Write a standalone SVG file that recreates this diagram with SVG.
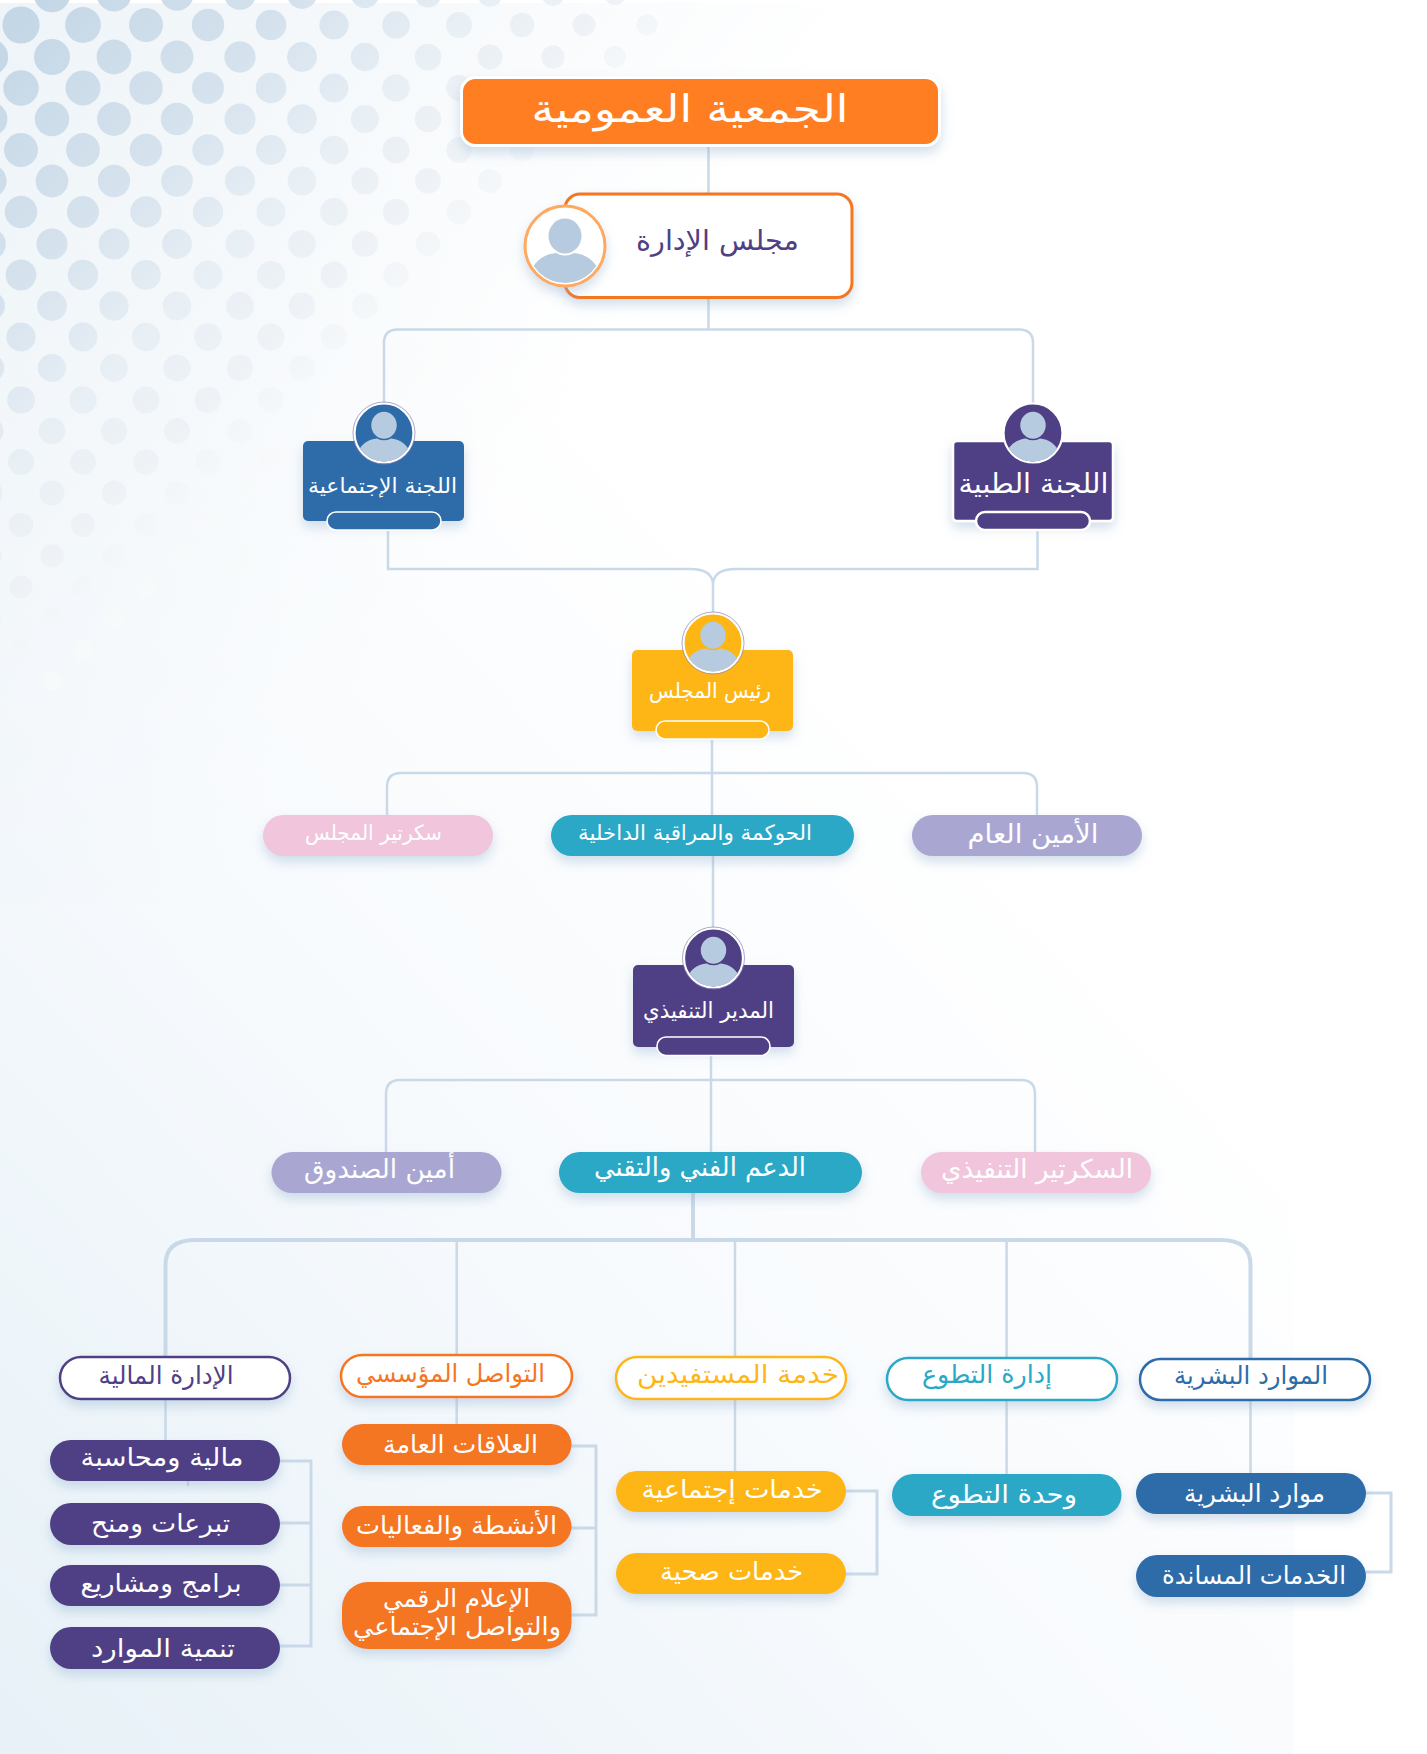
<svg xmlns="http://www.w3.org/2000/svg" width="1427" height="1754" viewBox="0 0 1427 1754">
<style>
text{font-family:"DejaVu Sans","Noto Sans",sans-serif;text-anchor:middle;direction:rtl}
.w{fill:#fff}.pu{fill:#4f4085}.or{fill:#f5761f}.ye{fill:#fdb614}.te{fill:#2aa8c6}.bl{fill:#2e6ca9}.pk{fill:#f1c6dc}.la{fill:#a9a7d2}
.sh{filter:url(#shadow)}
.cn{fill:none;stroke:#c9d9e8;stroke-width:2.5}
.ol{fill:#fff;stroke-width:2.5}
.pill{stroke:#fff;stroke-width:1.6}
.ring{stroke:#fff;stroke-width:2.2}
.halo{fill:none;stroke:#8d83b5;stroke-width:.7}
</style>
<defs>
<linearGradient id="bg" gradientUnits="userSpaceOnUse" x1="0" y1="1754" x2="1000" y2="800"><stop offset="0" stop-color="#e7f1f7"/><stop offset=".55" stop-color="#f7fafd"/><stop offset="1" stop-color="#fff"/></linearGradient>
<linearGradient id="bg2" gradientUnits="userSpaceOnUse" x1="0" y1="0" x2="560" y2="420"><stop offset="0" stop-color="#eef4f8"/><stop offset="1" stop-color="#eef4f8" stop-opacity="0"/></linearGradient>
<linearGradient id="dot" gradientUnits="userSpaceOnUse" x1="0" y1="0" x2="400" y2="400"><stop offset=".05" stop-color="#c4d7e6"/><stop offset=".375" stop-color="#d5e2ed"/><stop offset=".6" stop-color="#e8eff5"/><stop offset=".76" stop-color="#eef2f6"/><stop offset=".84" stop-color="#f4f7fa"/><stop offset=".95" stop-color="#f8fafb"/><stop offset="1" stop-color="#fafbfd"/></linearGradient>
<filter id="shadow" x="-20%" y="-30%" width="140%" height="170%"><feDropShadow dx="0" dy="6" stdDeviation="6" flood-color="#8fb0cc" flood-opacity=".4"/></filter>
<clipPath id="pc"><circle r="37"/></clipPath>
<g id="person"><g clip-path="url(#pc)"><path fill="#b6cbdf" d="M-36 40V28C-30 14-20 8-9 7Q0 12 9 7C20 8 30 14 36 28V40Z"/></g><ellipse cx="0" cy="-10" rx="16.5" ry="17.5" fill="#b6cbdf"/></g>
</defs>
<rect x="0" y="3" width="1427" height="1751" fill="#fff"/>
<rect x="0" y="3" width="1294" height="1751" fill="url(#bg)"/>
<rect x="0" y="3" width="1000" height="900" fill="url(#bg2)"/>
<g id="dots" fill="url(#dot)">
<circle cx="52" cy="-6" r="18.3"/><circle cx="114" cy="-6" r="17.5"/><circle cx="177" cy="-6" r="16.7"/><circle cx="240" cy="-6" r="15.9"/><circle cx="302" cy="-6" r="15"/><circle cx="365" cy="-6" r="14.2"/><circle cx="428" cy="-6" r="13.4"/><circle cx="490" cy="-6" r="12.6"/><circle cx="553" cy="-6" r="11.8"/><circle cx="615" cy="-6" r="11"/>
<circle cx="21" cy="25" r="18.6"/><circle cx="83" cy="25" r="17.9"/><circle cx="146" cy="25" r="17"/><circle cx="208" cy="25" r="16.2"/><circle cx="271" cy="25" r="15.3"/><circle cx="334" cy="25" r="14.6"/><circle cx="396" cy="25" r="13.8"/><circle cx="459" cy="25" r="13"/><circle cx="522" cy="25" r="12.2"/><circle cx="584" cy="25" r="11.4"/><circle cx="647" cy="25" r="10.6"/>
<circle cx="-10" cy="57" r="18.2"/><circle cx="52" cy="57" r="18"/><circle cx="114" cy="57" r="17.4"/><circle cx="177" cy="57" r="16.5"/><circle cx="240" cy="57" r="15.7"/><circle cx="302" cy="57" r="14.9"/><circle cx="365" cy="57" r="14.2"/><circle cx="428" cy="57" r="13.3"/><circle cx="490" cy="57" r="12.5"/><circle cx="553" cy="57" r="11.7"/><circle cx="615" cy="57" r="10.9"/>
<circle cx="21" cy="88" r="17.8"/><circle cx="83" cy="88" r="17.5"/><circle cx="146" cy="88" r="16.8"/><circle cx="208" cy="88" r="16"/><circle cx="271" cy="88" r="15.3"/><circle cx="334" cy="88" r="14.5"/><circle cx="396" cy="88" r="13.7"/><circle cx="459" cy="88" r="12.9"/><circle cx="522" cy="88" r="12"/><circle cx="584" cy="88" r="11.2"/>
<circle cx="-10" cy="119" r="17.4"/><circle cx="52" cy="119" r="17.3"/><circle cx="114" cy="119" r="16.9"/><circle cx="177" cy="119" r="16.2"/><circle cx="240" cy="119" r="15.6"/><circle cx="302" cy="119" r="14.8"/><circle cx="365" cy="119" r="14"/><circle cx="428" cy="119" r="13.2"/><circle cx="490" cy="119" r="12.4"/><circle cx="553" cy="119" r="11.6"/>
<circle cx="21" cy="150" r="17"/><circle cx="83" cy="150" r="16.9"/><circle cx="146" cy="150" r="16.3"/><circle cx="208" cy="150" r="15.7"/><circle cx="271" cy="150" r="15"/><circle cx="334" cy="150" r="14.2"/><circle cx="396" cy="150" r="13.4"/><circle cx="459" cy="150" r="12.7"/><circle cx="522" cy="150" r="11.8"/>
<circle cx="-10" cy="181" r="16.6"/><circle cx="52" cy="181" r="16.4"/><circle cx="114" cy="181" r="16.2"/><circle cx="177" cy="181" r="15.8"/><circle cx="240" cy="181" r="15"/><circle cx="302" cy="181" r="14.4"/><circle cx="365" cy="181" r="13.6"/><circle cx="428" cy="181" r="12.9"/><circle cx="490" cy="181" r="12.1"/>
<circle cx="21" cy="212" r="16.2"/><circle cx="83" cy="212" r="16"/><circle cx="146" cy="212" r="15.7"/><circle cx="208" cy="212" r="15.2"/><circle cx="271" cy="212" r="14.6"/><circle cx="334" cy="212" r="13.9"/><circle cx="396" cy="212" r="13.2"/><circle cx="459" cy="212" r="12.4"/>
<circle cx="-10" cy="244" r="15.8"/><circle cx="52" cy="244" r="15.6"/><circle cx="114" cy="244" r="15.4"/><circle cx="177" cy="244" r="15"/><circle cx="240" cy="244" r="14.5"/><circle cx="302" cy="244" r="13.9"/><circle cx="365" cy="244" r="13.1"/><circle cx="428" cy="244" r="12.4"/>
<circle cx="21" cy="275" r="15.4"/><circle cx="83" cy="275" r="15.2"/><circle cx="146" cy="275" r="14.9"/><circle cx="208" cy="275" r="14.5"/><circle cx="271" cy="275" r="14"/><circle cx="334" cy="275" r="13.4"/><circle cx="396" cy="275" r="12.7"/>
<circle cx="-10" cy="306" r="15"/><circle cx="52" cy="306" r="14.9"/><circle cx="114" cy="306" r="14.7"/><circle cx="177" cy="306" r="14.4"/><circle cx="240" cy="306" r="13.9"/><circle cx="302" cy="306" r="13.4"/><circle cx="365" cy="306" r="12.8"/>
<circle cx="21" cy="337" r="14.6"/><circle cx="83" cy="337" r="14.4"/><circle cx="146" cy="337" r="14.2"/><circle cx="208" cy="337" r="13.8"/><circle cx="271" cy="337" r="13.4"/><circle cx="334" cy="337" r="12.9"/>
<circle cx="-10" cy="368" r="14.2"/><circle cx="52" cy="368" r="14.1"/><circle cx="114" cy="368" r="13.9"/><circle cx="177" cy="368" r="13.6"/><circle cx="240" cy="368" r="13.2"/><circle cx="302" cy="368" r="12.8"/>
<circle cx="21" cy="400" r="13.8"/><circle cx="83" cy="400" r="13.7"/><circle cx="146" cy="400" r="13.5"/><circle cx="208" cy="400" r="13.2"/><circle cx="271" cy="400" r="12.8"/>
<circle cx="-10" cy="431" r="13.4"/><circle cx="52" cy="431" r="13.3"/><circle cx="114" cy="431" r="13.2"/><circle cx="177" cy="431" r="12.9"/><circle cx="240" cy="431" r="12.5"/>
<circle cx="21" cy="462" r="13"/><circle cx="83" cy="462" r="12.9"/><circle cx="146" cy="462" r="12.7"/><circle cx="208" cy="462" r="12.4"/><circle cx="271" cy="462" r="12"/>
<circle cx="-10" cy="493" r="12.6"/><circle cx="52" cy="493" r="12.5"/><circle cx="114" cy="493" r="12.4"/><circle cx="177" cy="493" r="12.2"/><circle cx="240" cy="493" r="11.8"/>
<circle cx="21" cy="525" r="12.2"/><circle cx="83" cy="525" r="12.1"/><circle cx="146" cy="525" r="12"/><circle cx="208" cy="525" r="11.7"/>
<circle cx="-10" cy="556" r="11.8"/><circle cx="52" cy="556" r="11.7"/><circle cx="114" cy="556" r="11.6"/><circle cx="177" cy="556" r="11.4"/>
<circle cx="21" cy="587" r="11.4"/><circle cx="83" cy="587" r="11.3"/><circle cx="146" cy="587" r="11.2"/>
<circle cx="-10" cy="618" r="11"/><circle cx="52" cy="618" r="11"/><circle cx="114" cy="618" r="10.9"/>
<circle cx="21" cy="650" r="10.6"/><circle cx="83" cy="650" r="10.5"/>
<circle cx="52" cy="681" r="10"/>
</g>
<g id="connectors" class="cn">
<path d="M708.500 147V330"/>
<path d="M384 405V343Q384 329.500 398 329.500H1019Q1033 329.500 1033 343V405"/>
<path d="M388 531V569H690Q713 569 713 585V612M1037.500 531V569H736Q713 569 713 585"/>
<path d="M712 740V815M387 815V787Q387 773 401 773H1023Q1037 773 1037 787V815"/>
<path d="M713 856V928"/>
<path d="M711 1056V1152M386 1152V1094Q386 1080 400 1080H1021Q1035 1080 1035 1094V1152"/>
<path stroke-width="4" d="M693 1193V1240M165.500 1356V1265Q165.500 1240 195 1240H1221Q1250.500 1240 1250.500 1265V1359"/>
<path d="M456.700 1240V1424M735 1240V1471M1006.600 1240V1474"/>
<path d="M165.500 1356V1440M188 1480V1486M1250.500 1359V1473"/>
<path stroke-width="3" d="M280 1461H311V1646H280M280 1523H311M280 1585H311"/>
<path stroke-width="3" d="M571 1446H596V1615H571M571 1528H596"/>
<path stroke-width="3" d="M846 1491H877V1574H846"/>
<path stroke-width="3" d="M1366 1493H1391V1572H1366"/>
</g>
<g id="general-assembly"><rect class="sh" x="461.500" y="77.500" width="478" height="68" rx="14" fill="#ff7e20" stroke="#fff" stroke-width="3"/><text class="w" x="690" y="122" font-size="38" textLength="317" lengthAdjust="spacingAndGlyphs">الجمعية العمومية</text></g>
<g id="board"><rect class="sh" x="565" y="194" width="287" height="103.500" rx="15" fill="#fff" stroke="#f5761f" stroke-width="3"/><circle class="sh" cx="565" cy="246" r="40" fill="#fff" stroke="#ffa95f" stroke-width="3"/><use href="#person" transform="translate(565,246)"/><text class="pu" x="717.500" y="250" font-size="28" textLength="163" lengthAdjust="spacingAndGlyphs">مجلس الإدارة</text></g>
<g id="social-committee"><rect class="sh bl" x="303" y="441" width="161" height="80" rx="5"/><circle class="bl ring" cx="384" cy="433" r="29.500"/><circle class="halo" cx="384" cy="433" r="31"/><use href="#person" transform="translate(384,433) scale(.77)"/><text class="w" x="382.500" y="493" font-size="21" textLength="149" lengthAdjust="spacingAndGlyphs">اللجنة الإجتماعية</text><rect class="bl pill" x="327" y="512" width="114" height="18" rx="9"/></g>
<g id="medical-committee"><rect class="sh pu" x="953" y="441" width="160" height="80" rx="4" stroke="#fff" stroke-width="2.500"/><circle class="pu ring" cx="1033" cy="433" r="29.500"/><use href="#person" transform="translate(1033,433) scale(.77)"/><text class="w" x="1033.500" y="493" font-size="27" textLength="150" lengthAdjust="spacingAndGlyphs">اللجنة الطبية</text><rect class="pu" x="976" y="512" width="114" height="18" rx="9" stroke="#fff" stroke-width="2.500"/></g>
<g id="chair"><rect class="sh ye" x="632" y="650" width="161" height="81" rx="5"/><circle class="ye ring" cx="713" cy="643" r="29.500"/><circle class="halo" cx="713" cy="643" r="31"/><use href="#person" transform="translate(713,643) scale(.77)"/><text class="w" x="710" y="698" font-size="21" textLength="122" lengthAdjust="spacingAndGlyphs">رئيس المجلس</text><rect class="ye pill" x="656" y="721" width="113" height="18" rx="9"/></g>
<g id="board-secretary"><rect class="sh pk" x="263" y="815" width="230" height="41" rx="20.500"/><text class="w" x="373.500" y="840" font-size="21" textLength="137" lengthAdjust="spacingAndGlyphs">سكرتير المجلس</text></g>
<g id="governance"><rect class="sh te" x="551" y="815" width="303" height="41" rx="20.500"/><text class="w" x="695" y="840" font-size="21" textLength="234" lengthAdjust="spacingAndGlyphs">الحوكمة والمراقبة الداخلية</text></g>
<g id="secretary-general"><rect class="sh la" x="912" y="815" width="230" height="41" rx="20.500"/><text class="w" x="1033" y="843" font-size="26" textLength="131" lengthAdjust="spacingAndGlyphs">الأمين العام</text></g>
<g id="executive-director"><rect class="sh pu" x="633" y="965" width="161" height="82" rx="5"/><circle class="pu ring" cx="713.500" cy="958" r="29.500"/><circle class="halo" cx="713.500" cy="958" r="31"/><use href="#person" transform="translate(713.500,958) scale(.77)"/><text class="w" x="708.500" y="1018" font-size="22" textLength="131" lengthAdjust="spacingAndGlyphs">المدير التنفيذي</text><rect class="pu pill" x="657" y="1037" width="113" height="18.500" rx="9"/></g>
<g id="treasurer"><rect class="sh la" x="271.500" y="1152" width="230" height="41" rx="20.500"/><text class="w" x="379.500" y="1178" font-size="26" textLength="151" lengthAdjust="spacingAndGlyphs">أمين الصندوق</text></g>
<g id="tech-support"><rect class="sh te" x="559" y="1152" width="303" height="41" rx="20.500"/><text class="w" x="700" y="1176" font-size="26" textLength="212" lengthAdjust="spacingAndGlyphs">الدعم الفني والتقني</text></g>
<g id="executive-secretary"><rect class="sh pk" x="921" y="1152" width="230" height="41" rx="20.500"/><text class="w" x="1037" y="1178" font-size="26" textLength="192" lengthAdjust="spacingAndGlyphs">السكرتير التنفيذي</text></g>
<g id="finance-dept"><rect class="sh ol" stroke="#4f4085" x="60" y="1357" width="230" height="42" rx="21"/><text class="pu" x="166" y="1384" font-size="25" textLength="135" lengthAdjust="spacingAndGlyphs">الإدارة المالية</text></g>
<g id="communication-dept"><rect class="sh ol" stroke="#f5761f" x="341" y="1355" width="231" height="42" rx="21"/><text class="or" x="450.500" y="1382" font-size="25" textLength="189" lengthAdjust="spacingAndGlyphs">التواصل المؤسسي</text></g>
<g id="beneficiaries-dept"><rect class="sh ol" stroke="#fdb614" x="616" y="1357" width="230" height="42" rx="21"/><text class="ye" x="738" y="1383" font-size="25" textLength="202" lengthAdjust="spacingAndGlyphs">خدمة المستفيدين</text></g>
<g id="volunteering-dept"><rect class="sh ol" stroke="#2aa8c6" x="887" y="1358" width="230" height="42" rx="21"/><text class="te" x="987" y="1383" font-size="25" textLength="130" lengthAdjust="spacingAndGlyphs">إدارة التطوع</text></g>
<g id="hr-dept"><rect class="sh ol" stroke="#2e6ca9" x="1140" y="1359" width="230" height="41" rx="20.500"/><text class="bl" x="1251" y="1384" font-size="25" textLength="154" lengthAdjust="spacingAndGlyphs">الموارد البشرية</text></g>
<g id="accounting"><rect class="sh pu" x="50" y="1440" width="230" height="41" rx="20.500"/><text class="w" x="162" y="1466" font-size="25" textLength="163" lengthAdjust="spacingAndGlyphs">مالية ومحاسبة</text></g>
<g id="donations"><rect class="sh pu" x="50" y="1503" width="230" height="42" rx="21"/><text class="w" x="160.500" y="1532" font-size="25" textLength="139" lengthAdjust="spacingAndGlyphs">تبرعات ومنح</text></g>
<g id="programs"><rect class="sh pu" x="50" y="1565" width="230" height="41" rx="20.500"/><text class="w" x="161" y="1592" font-size="25" textLength="161" lengthAdjust="spacingAndGlyphs">برامج ومشاريع</text></g>
<g id="resources"><rect class="sh pu" x="50" y="1627" width="230" height="42" rx="21"/><text class="w" x="163" y="1657" font-size="25" textLength="144" lengthAdjust="spacingAndGlyphs">تنمية الموارد</text></g>
<g id="public-relations"><rect class="sh" fill="#f47523" x="342" y="1424" width="229.500" height="41" rx="20.500"/><text class="w" x="460.500" y="1453" font-size="25" textLength="155" lengthAdjust="spacingAndGlyphs">العلاقات العامة</text></g>
<g id="events"><rect class="sh" fill="#f47523" x="342" y="1506" width="229.500" height="41" rx="20.500"/><text class="w" x="456.500" y="1534" font-size="25" textLength="201" lengthAdjust="spacingAndGlyphs">الأنشطة والفعاليات</text></g>
<g id="digital-media"><rect class="sh" fill="#f47523" x="342" y="1582" width="229.500" height="67" rx="26"/><text class="w" x="456.500" y="1607" font-size="25" textLength="147" lengthAdjust="spacingAndGlyphs">الإعلام الرقمي</text><text class="w" x="457" y="1635" font-size="25" textLength="208" lengthAdjust="spacingAndGlyphs">والتواصل الإجتماعي</text></g>
<g id="social-services"><rect class="sh ye" x="616" y="1471" width="230" height="41" rx="20.500"/><text class="w" x="732" y="1498" font-size="25" textLength="181" lengthAdjust="spacingAndGlyphs">خدمات إجتماعية</text></g>
<g id="health-services"><rect class="sh ye" x="616" y="1553" width="230" height="41" rx="20.500"/><text class="w" x="731.500" y="1580" font-size="25" textLength="143" lengthAdjust="spacingAndGlyphs">خدمات صحية</text></g>
<g id="volunteering-unit"><rect class="sh te" x="892" y="1474" width="229.500" height="42" rx="21"/><text class="w" x="1004" y="1503" font-size="25" textLength="146" lengthAdjust="spacingAndGlyphs">وحدة التطوع</text></g>
<g id="human-resources"><rect class="sh bl" x="1136" y="1473" width="230" height="41" rx="20.500"/><text class="w" x="1254.500" y="1502" font-size="25" textLength="141" lengthAdjust="spacingAndGlyphs">موارد البشرية</text></g>
<g id="support-services"><rect class="sh bl" x="1136" y="1555" width="230" height="42" rx="21"/><text class="w" x="1254" y="1584" font-size="25" textLength="184" lengthAdjust="spacingAndGlyphs">الخدمات المساندة</text></g>
</svg>
